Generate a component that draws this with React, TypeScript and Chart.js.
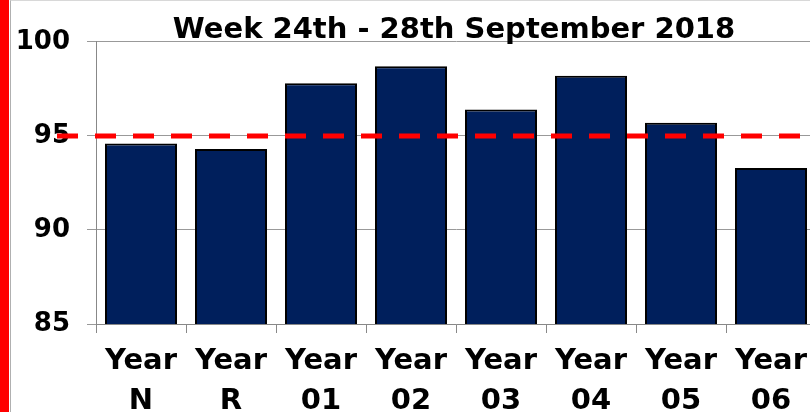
import React, { useEffect, useRef } from 'react';
import { Chart, registerables } from 'chart.js';

Chart.register(...registerables);

const categories: string[][] = [
  ['Year', 'N'],
  ['Year', 'R'],
  ['Year', '01'],
  ['Year', '02'],
  ['Year', '03'],
  ['Year', '04'],
  ['Year', '05'],
  ['Year', '06'],
];
const attendance: number[] = [94.6, 94.3, 97.8, 98.7, 96.4, 98.2, 95.7, 93.3];
const target = 95;
const yTicks: number[] = [85, 90, 95, 100];
const titleText = 'Week 24th - 28th September 2018';

const FONT = '"DejaVu Sans", Verdana, sans-serif';

const targetLinePlugin = {
  id: 'targetLine',
  afterDraw(chart: any) {
    const y = chart.scales.y.getPixelForValue(target);
    const ctx = chart.ctx;
    ctx.save();
    ctx.strokeStyle = '#ff0000';
    ctx.lineWidth = 5;
    ctx.setLineDash([21, 17]);
    ctx.beginPath();
    ctx.moveTo(chart.chartArea.left - 39, y);
    ctx.lineTo(chart.width, y);
    ctx.stroke();
    ctx.restore();
  },
};

export default function App() {
  const canvasRef = useRef<HTMLCanvasElement | null>(null);

  useEffect(() => {
    if (!canvasRef.current) return;
    const chart = new Chart(canvasRef.current, {
      type: 'bar',
      data: {
        labels: categories,
        datasets: [
          {
            data: attendance,
            backgroundColor: '#001f5c',
            borderColor: '#000000',
            borderWidth: 2,
            categoryPercentage: 1,
            barPercentage: 0.8,
          },
        ],
      },
      options: {
        animation: false,
        responsive: false,
        maintainAspectRatio: false,
        layout: { padding: 0 },
        plugins: {
          legend: { display: false },
          tooltip: { enabled: false },
          title: {
            display: true,
            text: titleText,
            color: '#000000',
            font: { family: FONT, size: 29, weight: 'bold', lineHeight: 0.79 },
            padding: { top: 19, bottom: 0 },
          },
        },
        scales: {
          x: {
            offset: true,
            afterFit: (scale: any) => {
              scale.height = 88;
            },
            grid: {
              drawOnChartArea: false,
              drawTicks: true,
              tickLength: 9,
              color: '#888888',
              offset: true,
            },
            border: { color: '#888888', width: 1 },
            ticks: {
              color: '#000000',
              padding: 8,
              maxRotation: 0,
              autoSkip: false,
              font: { family: FONT, size: 29, weight: 'bold', lineHeight: 1.4 },
            },
          },
          y: {
            min: 85,
            max: 100,
            afterBuildTicks: (scale: any) => {
              scale.ticks = yTicks.map((v) => ({ value: v }));
            },
            afterFit: (scale: any) => {
              scale.width = 86;
            },
            grid: {
              color: '#999999',
              tickLength: 9,
            },
            border: { color: '#888888', width: 1 },
            ticks: {
              color: '#000000',
              padding: 17,
              font: { family: FONT, size: 26, weight: 'bold' },
            },
          },
          yRight: {
            position: 'right',
            display: true,
            min: 85,
            max: 100,
            afterFit: (scale: any) => {
              scale.width = 82;
            },
            grid: { display: false, drawTicks: false },
            border: { display: false },
            ticks: { display: false },
          },
        },
      },
      plugins: [targetLinePlugin],
    });
    return () => chart.destroy();
  }, []);

  return (
    <div
      style={{
        position: 'fixed',
        left: 0,
        top: 0,
        width: 810,
        height: 412,
        overflow: 'hidden',
        background: '#ffffff',
      }}
    >
      <div
        style={{
          position: 'absolute',
          left: 0,
          top: 0,
          width: 9,
          height: 412,
          background: '#ff0000',
        }}
      />
      <div
        style={{
          position: 'absolute',
          left: 10,
          top: 0,
          width: 800,
          height: 412,
          borderLeft: '1px solid #b0b0b0',
          borderTop: '1px solid #d8d8d8',
          boxSizing: 'border-box',
        }}
      />
      <canvas
        ref={canvasRef}
        width={888}
        height={412}
        style={{ position: 'absolute', left: 10, top: 0, width: 888, height: 412 }}
      />
    </div>
  );
}
